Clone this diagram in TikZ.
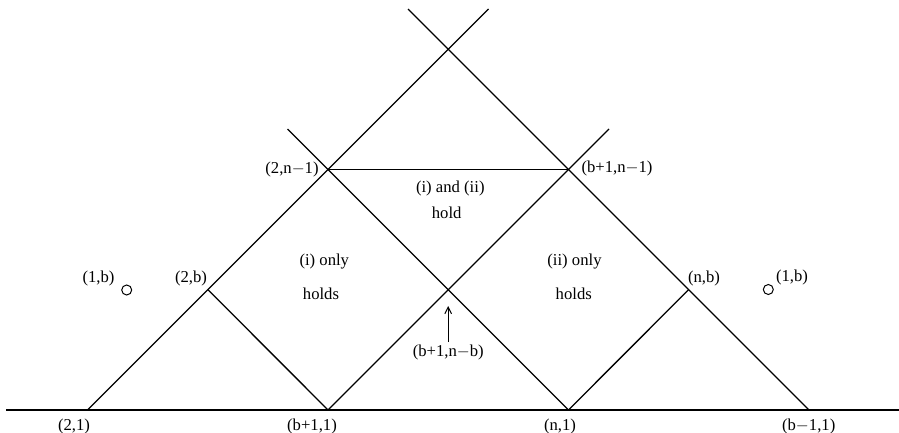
\documentclass[tikz,border=0pt]{standalone}
\usepackage{fontspec}
\setmainfont{Liberation Serif}
\usetikzlibrary{arrows.meta}
\begin{document}
\begin{tikzpicture}[x=0.6pt,y=-0.6pt,
  ln/.style={line width=0.8pt},
  lab/.style={font=\fontsize{10}{12}\selectfont, inner sep=0pt},
  dot/.style={draw, circle, minimum size=6pt, inner sep=0pt, line width=0.6pt}]
\useasboundingbox (0,0) rectangle (899,433);
% points
\coordinate (L) at (6,410);
\coordinate (R) at (899,410);
\coordinate (A) at (87.5,410);
\coordinate (B) at (328,410);
\coordinate (C) at (568.5,410);
\coordinate (D) at (809,410);
\coordinate (P) at (208,289.7);
\coordinate (S) at (688.5,289.7);
\coordinate (U) at (328,169.3);
\coordinate (V) at (568.5,169.3);
\coordinate (TR) at (488.5,9);
\coordinate (TL) at (408,9);
\coordinate (UL) at (287.5,129);
\coordinate (VR) at (609,129);
% lines
\draw[ln] (L) -- (R);
\draw[ln] (A) -- (TR);
\draw[ln] (D) -- (TL);
\draw[ln] (UL) -- (C);
\draw[ln] (VR) -- (B);
\draw[ln] (P) -- (B);
\draw[ln] (S) -- (C);
\draw[ln] (U) -- (V);
% small circles
\node[dot] (c1) at (126.7,290) {};
\node[dot] (c2) at (768.3,289.5) {};
% arrow
\coordinate (a0) at (448.2,342);
\coordinate (a1) at (448.2,306);
\draw[line width=0.6pt, -{Straight Barb[length=4pt,width=4pt]}] (a0) -- (a1);
% labels
\node[lab] (l21) at (74,426) {(2,1)};
\node[lab] (lb11) at (312,426) {(b+1,1)};
\node[lab] (ln1) at (560,426) {(n,1)};
\node[lab] (lbm1) at (808.7,426) {(b$-$1,1)};
\node[lab] (l1bL) at (98.5,278) {(1,b)};
\node[lab] (l2b) at (191,278) {(2,b)};
\node[lab] (lnb) at (704,278) {(n,b)};
\node[lab] (l1bR) at (792,277) {(1,b)};
\node[lab] (l2n) at (292,169) {(2,n$-$1)};
\node[lab] (lbn) at (617,168.5) {(b+1,n$-$1)};
\node[lab] (lbnb) at (448.3,352) {(b+1,n$-$b)};
\node[lab] (t1) at (324.3,262) {(i) only};
\node[lab] (t2) at (321,293.5) {holds};
\node[lab] (t3) at (574.5,262) {(ii) only};
\node[lab] (t4) at (573.8,293.5) {holds};
\node[lab] (t5) at (450.3,188.5) {(i) and (ii)};
\node[lab] (t6) at (446.7,212.5) {hold};
\end{tikzpicture}
\end{document}
